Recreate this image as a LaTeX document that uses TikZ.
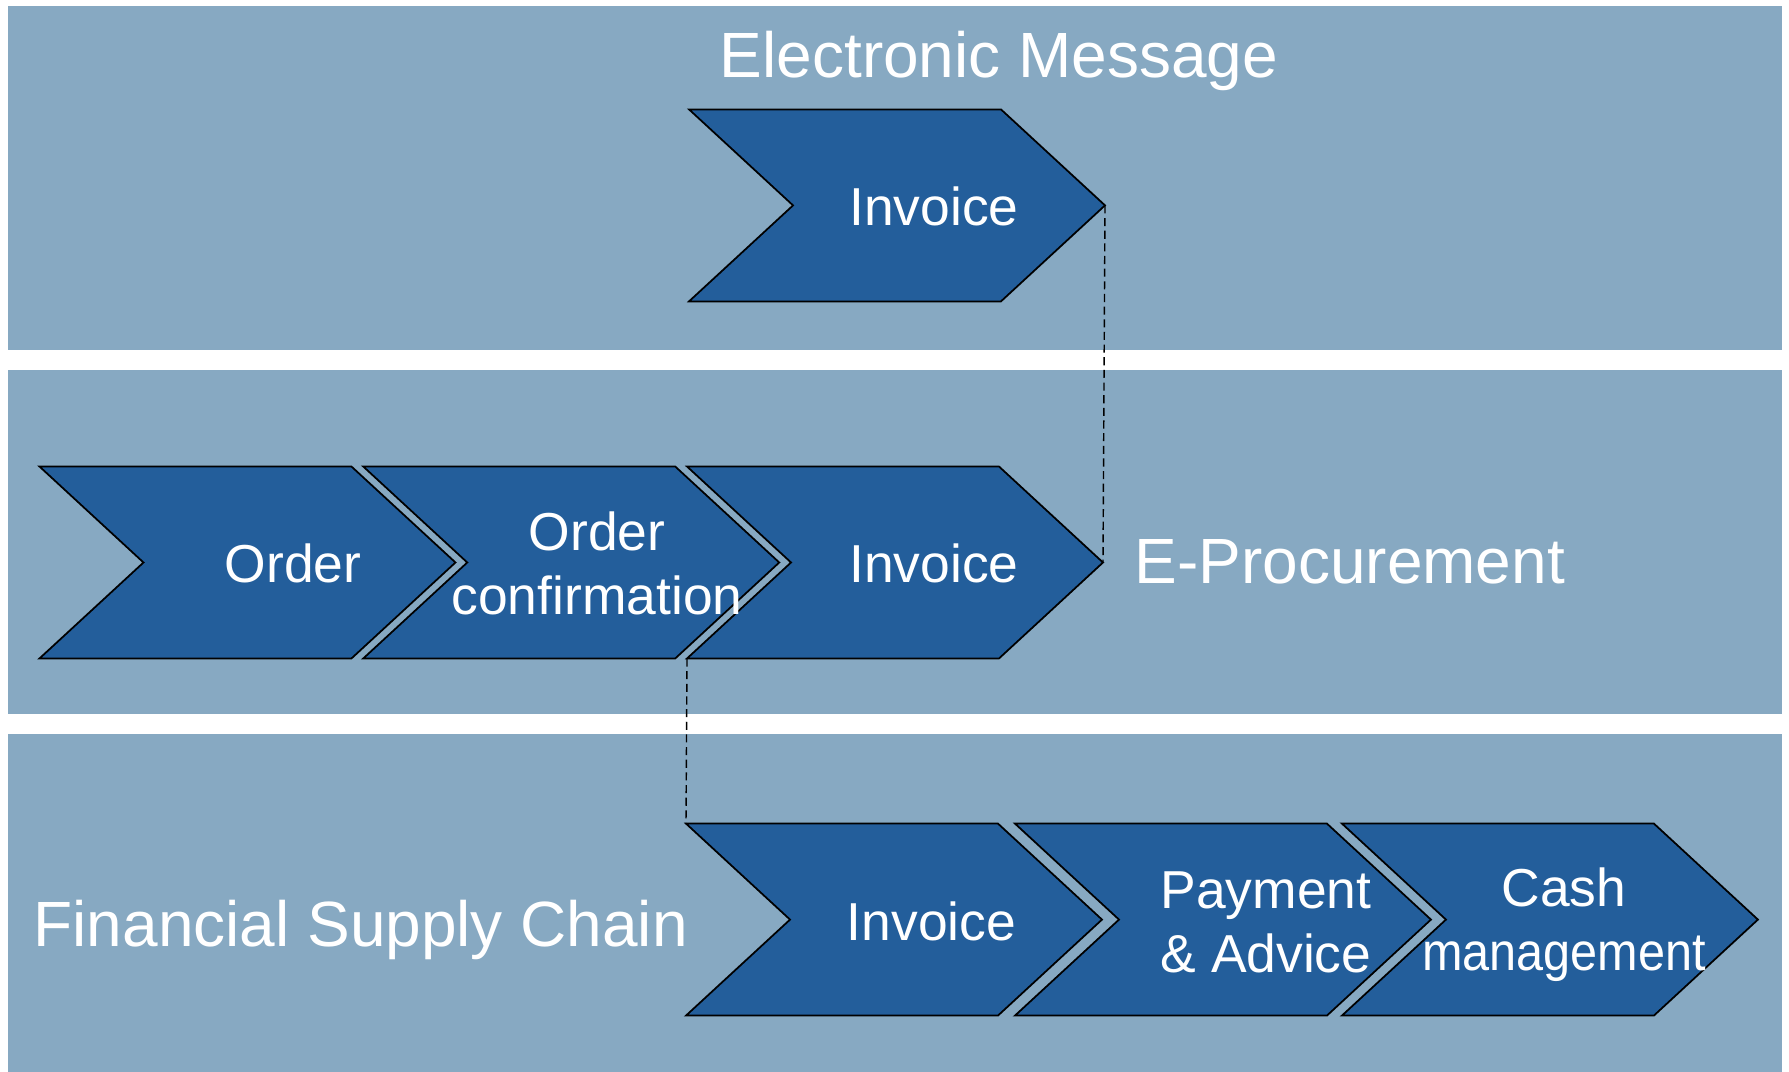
\documentclass[tikz,border=0pt]{standalone}
\usepackage{fontspec}
\setmainfont{Liberation Sans}
\usetikzlibrary{positioning}
\usetikzlibrary{shapes.symbols}
\definecolor{bandblue}{RGB}{135, 169, 194}
\definecolor{chevblue}{RGB}{35, 94, 155}
\tikzset{chev/.style = {signal, signal from = west, signal to = east, signal pointer angle = 85.4, fill = chevblue, draw = black, line width = 0.5pt, minimum width = 4.16cm, minimum height = 1.92cm, inner sep = 0, outer sep = 0}}
\tikzset{lab/.style = {text = white, inner sep = 0, align = center, font = \fontsize{15.2}{18.2}\selectfont}}
\tikzset{title/.style = {text = white, inner sep = 0, font = \fontsize{18.2}{22}\selectfont}}
\tikzset{link/.style = {line width = 0.4pt, dash pattern = on 2.3pt off 1.3pt}}

\begin{document}
\begin{tikzpicture}
    \useasboundingbox (0, 0) rectangle (17.89, -10.72);
    \fill [bandblue] (0.08, -0.06) rectangle (17.82, -3.50);
    \fill [bandblue] (0.08, -3.70) rectangle (17.82, -7.14);
    \fill [bandblue] (0.08, -7.34) rectangle (17.82, -10.72);

    \node [title, anchor = base] (msg) at (9.99, -0.78) {Electronic Message};
    \node [title, anchor = base west] (eproc) at (11.34, -5.84) {E-Procurement};
    \node [title, anchor = base west] (fsc) at (0.33, -9.47) {Financial Supply Chain};

    % top band
    \node [chev, anchor = east] (inv1) at (11.05, -2.054) {};
    \node [lab] (inv1t) at (9.34, -2.065) {Invoice};

    % middle band
    \node [chev, anchor = east] (inv2) at (11.03, -5.625) {};
    \node [chev, left = 0.118cm of inv2] (conf) {};
    \node [chev, left = 0.118cm of conf] (order) {};
    \node [lab] (ordert) at (2.93, -5.636) {Order};
    \node [lab] (conft) at (5.97, -5.636) {Order\\confirmation};
    \node [lab] (inv2t) at (9.34, -5.636) {Invoice};

    % bottom band
    \node [chev, anchor = east] (inv3) at (11.02, -9.196) {};
    \node [chev, right = 0.17cm of inv3] (pay) {};
    \node [chev, right = 0.15cm of pay] (cash) {};
    \node [lab] (inv3t) at (9.315, -9.218) {Invoice};
    \node [lab] (payt) at (12.66, -9.22) {Payment\\\& Advice};
    \node [lab] (casht) at (15.64, -9.25) {Cash\\\scalebox{0.91}[1]{management}};

    \draw [link] (inv1.east) -- (inv2.east);
    \draw [link] (inv2.south west) -- (inv3.north west);
\end{tikzpicture}
\end{document}
